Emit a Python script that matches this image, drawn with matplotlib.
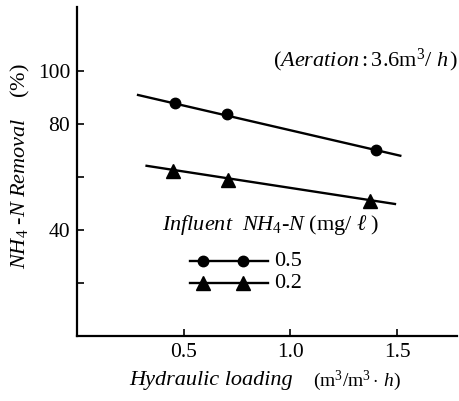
import matplotlib

matplotlib.use("Agg")

import matplotlib.pyplot as plt

# hydraulic loading (m3/m3.h) and NH4-N removal (%)
load_05 = [0.46, 0.70, 1.40]
removal_05 = [88.0, 83.7, 70.2]
fit_x_05 = [0.285, 1.515]
fit_y_05 = [90.9, 68.0]

load_02 = [0.45, 0.705, 1.375]
removal_02 = [62.2, 58.8, 50.9]
fit_x_02 = [0.325, 1.49]
fit_y_02 = [64.2, 49.8]

legend_labels = ["0.5", "0.2"]
x_ticks = [0.5, 1.0, 1.5]
x_tick_labels = ["0.5", "1.0", "1.5"]
y_ticks = [20, 40, 60, 80, 100]
y_tick_labels = ["", "40", "", "80", "100"]

plt.rcParams["font.family"] = ["Liberation Serif", "DejaVu Serif"]
plt.rcParams["mathtext.fontset"] = "custom"
plt.rcParams["mathtext.rm"] = "Liberation Serif"
plt.rcParams["mathtext.it"] = "Liberation Serif:italic"
plt.rcParams["mathtext.bf"] = "Liberation Serif:bold"

fig = plt.figure(figsize=(4.6, 4.01), dpi=100)
ax = fig.add_axes([0.168, 0.162, 0.825, 0.82])

lw = 1.7
ax.plot(fit_x_05, fit_y_05, color="black", lw=lw)
ax.plot(load_05, removal_05, "o", color="black", ms=7.5)
ax.plot(fit_x_02, fit_y_02, color="black", lw=lw)
ax.plot(load_02, removal_02, "^", color="black", ms=9.5)

ax.set_xlim(0, 1.78)
ax.set_ylim(0, 124)
ax.set_xticks(x_ticks)
ax.set_xticklabels(x_tick_labels)
ax.set_yticks(y_ticks)
ax.set_yticklabels(y_tick_labels)
ax.tick_params(direction="in", length=5, width=1.2, labelsize=15.5, pad=5)
for side in ["top", "right"]:
    ax.spines[side].set_visible(False)
for side in ["left", "bottom"]:
    ax.spines[side].set_linewidth(1.6)

# hand-drawn legend like the original
ax.text(0.223, 0.337, r"$Influent\ \ NH_{4}$-$N\ \mathrm{(mg/}\ \ell\ \mathrm{)}$",
        transform=ax.transAxes, fontsize=16, ha="left", va="center")
for row_y, mk, ms, lab in [(0.228, "o", 7.5, legend_labels[0]), (0.161, "^", 9.5, legend_labels[1])]:
    ax.plot([0.296, 0.502], [row_y, row_y], color="black", lw=lw, transform=ax.transAxes)
    ax.plot([0.331, 0.436], [row_y, row_y], mk, color="black", ms=ms, transform=ax.transAxes)
    ax.text(0.518, row_y, lab, transform=ax.transAxes, fontsize=16, ha="left", va="center")

ax.text(1.003, 0.839, r"$(Aeration:\mathrm{3.6m^3}/\ h\,)$", transform=ax.transAxes,
        fontsize=16, ha="right", va="center")

fig.text(0.045, 0.585, r"$NH_{4}\ $-$N\ Removal\ \ \ \ \mathrm{(\%)}$", rotation=90,
         fontsize=16, ha="center", va="center")
fig.text(0.637, 0.05, "Hydraulic loading", fontstyle="italic", fontsize=16,
         ha="right", va="center")
fig.text(0.680, 0.05, r"$\mathrm{(m^3/m^3\cdot}\,h\mathrm{)}$", fontsize=14,
         ha="left", va="center")

fig.savefig("out.png", dpi=100)
